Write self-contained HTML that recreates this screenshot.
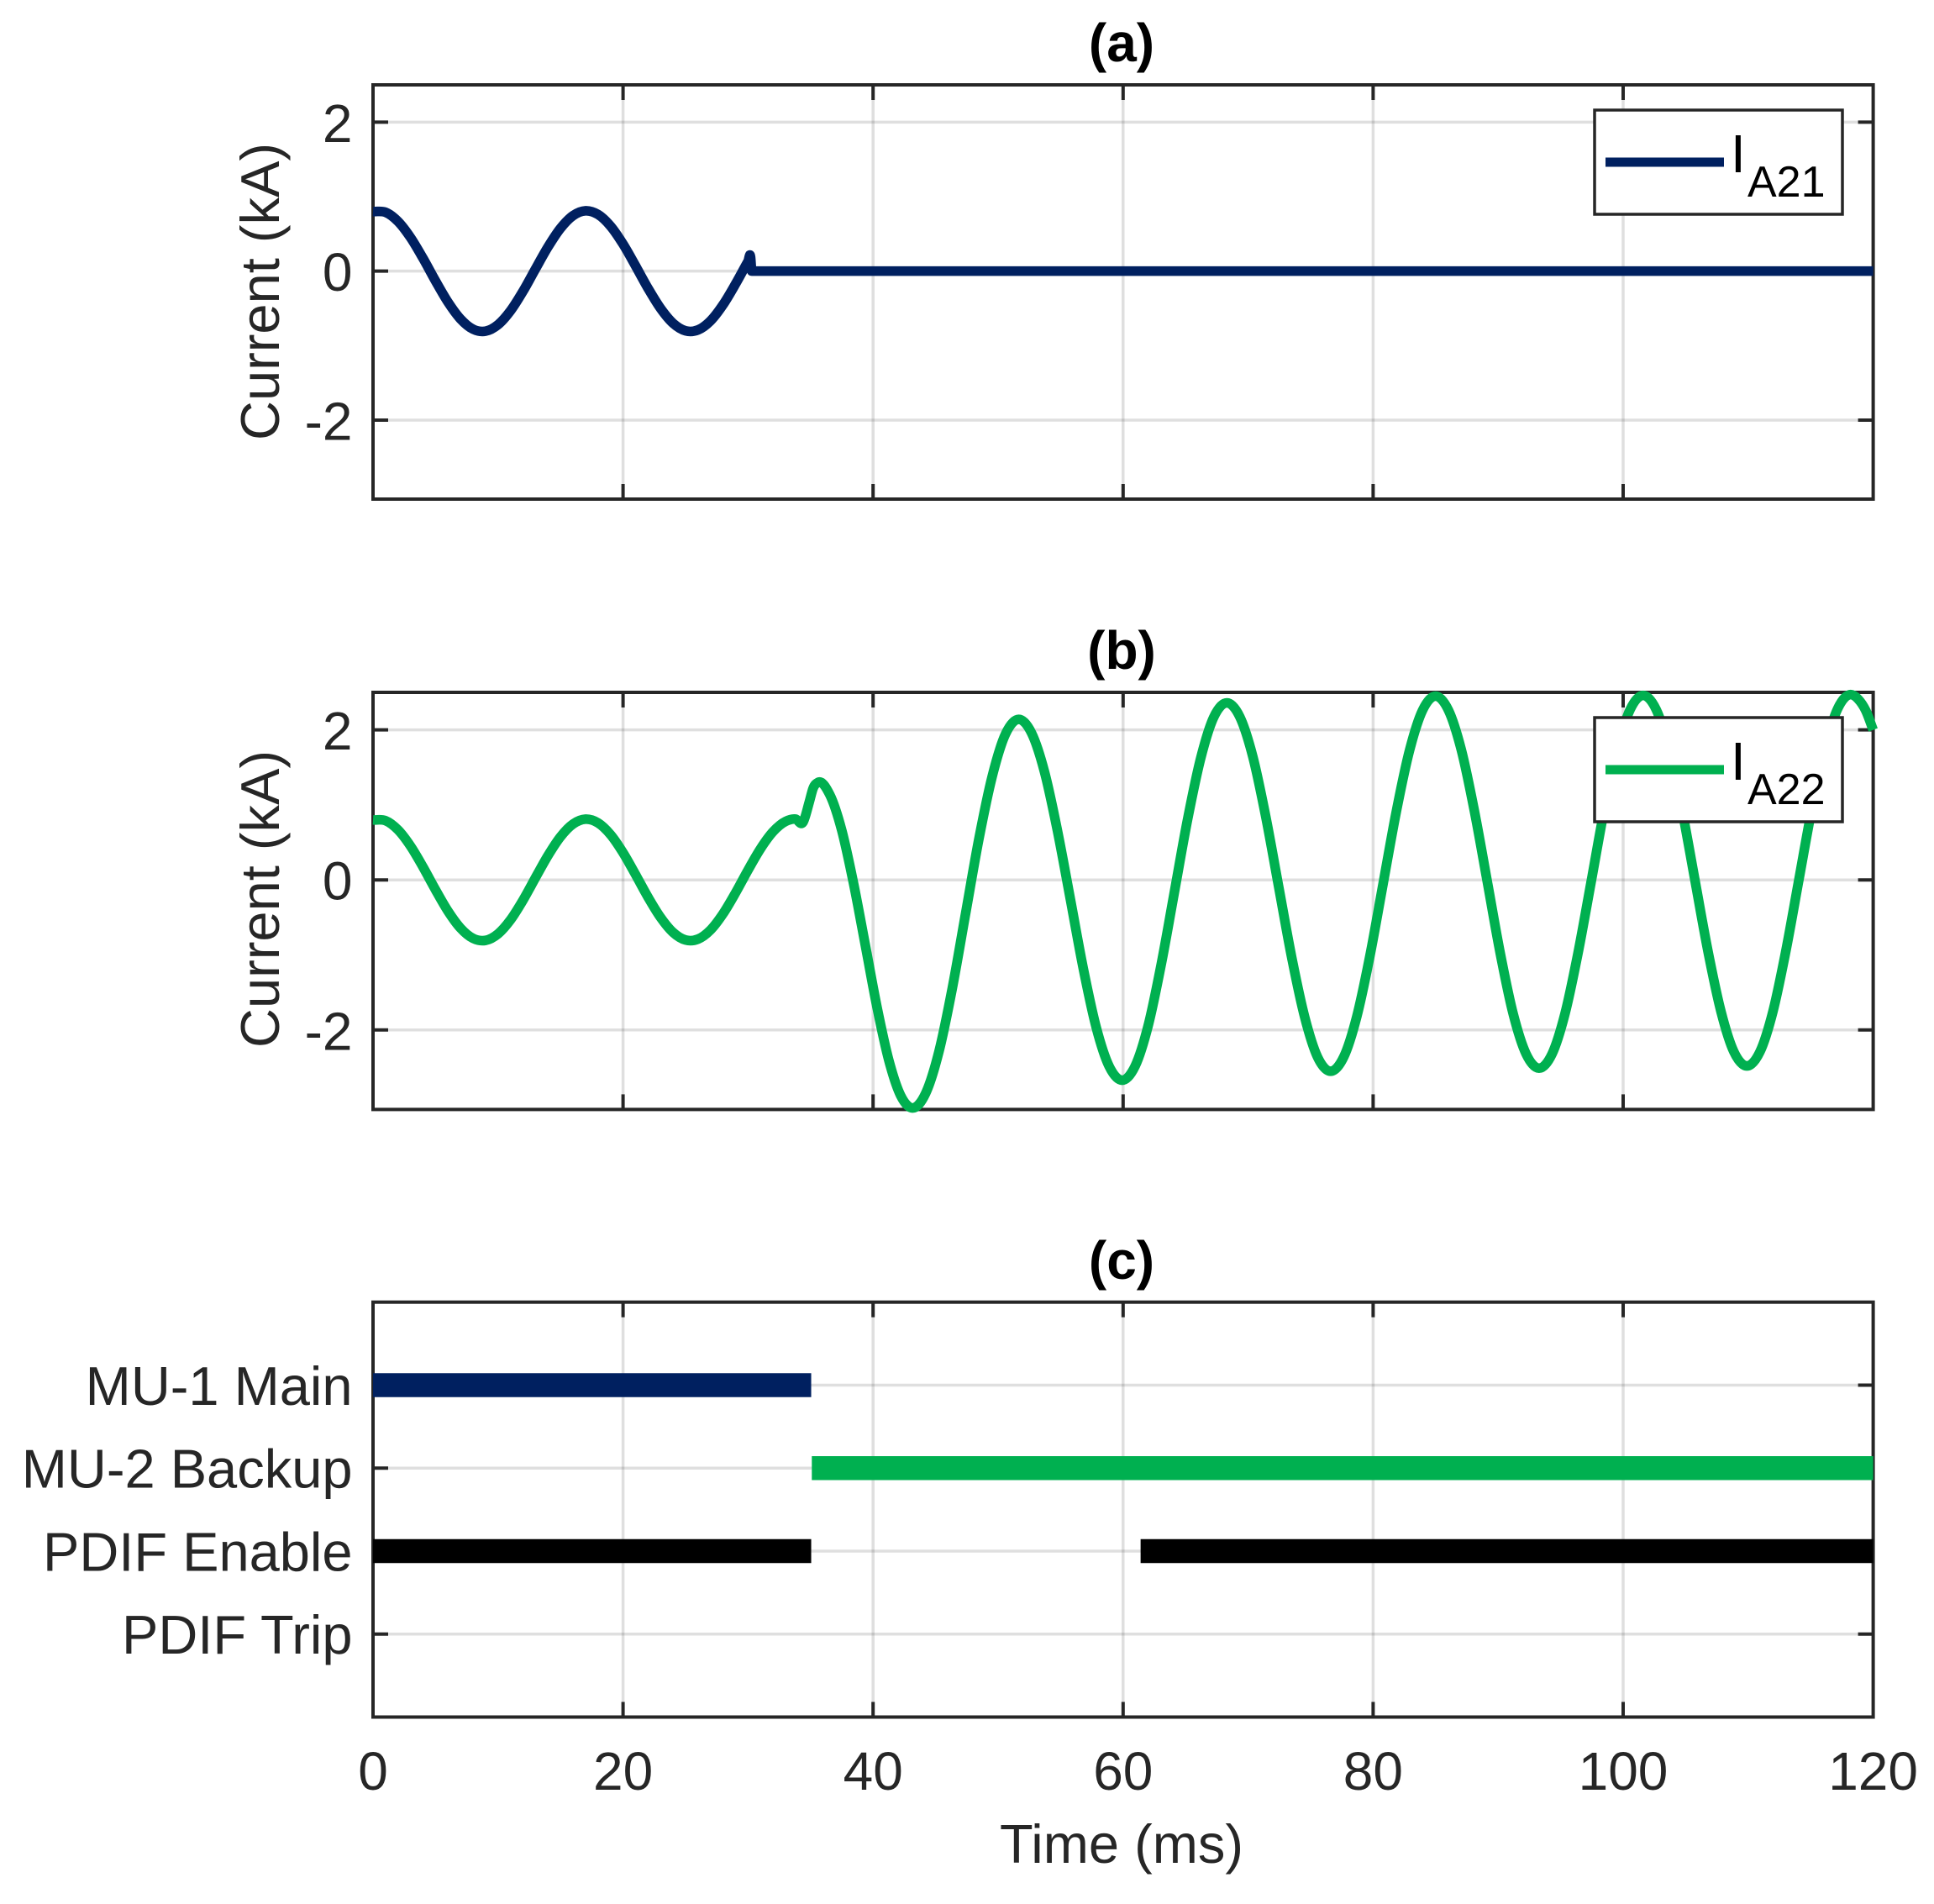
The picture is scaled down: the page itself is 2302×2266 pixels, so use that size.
<!DOCTYPE html>
<html lang="en">
<head>
<meta charset="utf-8">
<title>Current waveforms and protection signals</title>
<style>
  html, body { margin: 0; padding: 0; background: #fff; }
  svg { display: block; font-family: "Liberation Sans", Arial, sans-serif; }
</style>
</head>
<body>
<svg id="chart" xmlns="http://www.w3.org/2000/svg" width="2302" height="2266" viewBox="0 0 2302 2266">
  <rect x="0" y="0" width="2302" height="2266" fill="#fff"/>
  <g id="layer-a"></g>
  <g id="layer-b"></g>
  <g id="layer-c"></g>

  <text x="1335" y="73" font-size="64" font-weight="bold" text-anchor="middle" fill="#000">(a)</text>
  <text x="1335" y="796" font-size="64" font-weight="bold" text-anchor="middle" fill="#000">(b)</text>
  <text x="1335" y="1522" font-size="64" font-weight="bold" text-anchor="middle" fill="#000">(c)</text>

  <text transform="translate(332 347) rotate(-90)" font-size="65" text-anchor="middle" fill="#262626">Current (kA)</text>
  <text transform="translate(332 1070) rotate(-90)" font-size="65" text-anchor="middle" fill="#262626">Current (kA)</text>
  <text x="1335" y="2217" font-size="65" text-anchor="middle" fill="#262626">Time (ms)</text>

  <g>
    <rect x="1898" y="131" width="295" height="124" fill="#fff" stroke="#262626" stroke-width="3.5"/>
    <line x1="1911" x2="2052" y1="193" y2="193" stroke="#002060" stroke-width="11"/>
    <text x="2060" y="205" font-size="64" fill="#000">I</text>
    <text x="2080" y="234" font-size="52" fill="#000">A21</text>
  </g>
  <g>
    <rect x="1898" y="854" width="295" height="124" fill="#fff" stroke="#262626" stroke-width="3.5"/>
    <line x1="1911" x2="2052" y1="916" y2="916" stroke="#00B050" stroke-width="11"/>
    <text x="2060" y="928" font-size="64" fill="#000">I</text>
    <text x="2080" y="957" font-size="52" fill="#000">A22</text>
  </g>
</svg>
<script>
/* ---------- shared axis data ---------- */
const xTicks = [0, 20, 40, 60, 80, 100, 120];
const currentTicks = [-2, 0, 2];
const currentTickLabels = ["-2", "0", "2"];

/* ---------- panel (a): I_A21 ---------- */
const timeA = [0,1,2,3,4,5,6,7,8,9,10,11,12,13,14,15,16,17,18,19,20,21,22,23,24,25,26,27,28,29,30,30.2,30.3,120];
const currentA = [0.80,0.79,0.667,0.451,0.172,-0.132,-0.417,-0.643,-0.779,-0.806,-0.719,-0.532,-0.270,0.031,0.326,0.576,0.745,0.81,0.760,0.604,0.363,0.071,-0.231,-0.500,-0.700,-0.801,-0.789,-0.667,-0.451,-0.172,0.132,0.19,0,0];

/* ---------- panel (b): I_A22 ---------- */
const timeB = [0,1,2,3,4,5,6,7,8,9,10,11,12,13,14,15,16,17,18,19,20,21,22,23,24,25,26,27,28,29,30,31,32,33,33.8,34.4,34.9,35.2,35.6,
  36.54,37.49,38.43,39.38,40.32,41.26,42.21,43.15,
  44.21,45.28,46.34,47.40,48.46,49.53,50.59,51.65,
  52.68,53.72,54.75,55.79,56.82,57.85,58.89,59.92,
  60.97,62.02,63.06,64.11,65.16,66.21,67.25,68.3,
  69.34,70.38,71.41,72.45,73.49,74.53,75.56,76.6,
  77.65,78.7,79.75,80.8,81.85,82.9,83.95,85.0,
  86.03,87.07,88.1,89.14,90.17,91.2,92.24,93.27,
  94.31,95.35,96.39,97.44,98.48,99.52,100.56,101.6,
  102.64,103.68,104.71,105.75,106.79,107.83,108.86,109.9,
  110.94,111.98,113.01,114.05,115.09,116.13,117.16,118.2,
  118.8,119.4,120];
const currentB = [0.80,0.79,0.667,0.451,0.172,-0.132,-0.417,-0.643,-0.779,-0.806,-0.719,-0.532,-0.270,0.031,0.326,0.576,0.745,0.81,0.760,0.604,0.363,0.071,-0.231,-0.500,-0.700,-0.801,-0.789,-0.667,-0.451,-0.172,0.132,0.417,0.643,0.779,0.81,0.77,1.04,1.22,1.30,
  1.135,0.664,-0.04,-0.87,-1.70,-2.404,-2.875,-3.04,
  -2.843,-2.281,-1.441,-0.45,0.541,1.381,1.943,2.14,
  1.957,1.436,0.655,-0.265,-1.185,-1.966,-2.487,-2.67,
  -2.479,-1.933,-1.117,-0.155,0.807,1.623,2.169,2.36,
  2.173,1.641,0.845,-0.095,-1.035,-1.831,-2.363,-2.55,
  -2.36,-1.818,-1.007,-0.05,0.907,1.718,2.26,2.45,
  2.261,1.724,0.919,-0.03,-0.979,-1.784,-2.321,-2.51,
  -2.321,-1.782,-0.976,-0.025,0.926,1.732,2.271,2.46,
  2.272,1.737,0.935,-0.01,-0.955,-1.757,-2.292,-2.48,
  -2.292,-1.755,-0.952,-0.005,0.942,1.745,2.282,2.47,
  2.41,2.26,2.0];

/* ---------- panel (c): status signals ---------- */
const signalLevels = [4, 3, 2, 1];
const signalLabels = ["MU-1 Main", "MU-2 Backup", "PDIF Enable", "PDIF Trip"];
const segmentStarts = [0, 35.1, 0, 61.4];
const segmentEnds = [35.05, 120, 35.05, 120];
const segmentLevels = [4, 3, 2, 2];
const segmentSignals = ["mu1", "mu2", "pdif", "pdif"];

/* ---------- layout and style (not data) ---------- */
const NS = "http://www.w3.org/2000/svg";
const INK = "#262626";
const AXIS_W = 4, GRID_W = 3.5, TICK_LEN = 18;
const LEFT = 444, RIGHT = 2229.6;
const signalColor = { mu1: "#002060", mu2: "#00B050", pdif: "#000000" };
const xScale = t => LEFT + (t / 120) * (RIGHT - LEFT);
const makeY = (top, bottom, vMax, vMin) => v => top + (vMax - v) / (vMax - vMin) * (bottom - top);

function node(parent, tag, attrs) {
  const el = document.createElementNS(NS, tag);
  for (const k in attrs) el.setAttribute(k, attrs[k]);
  parent.appendChild(el);
  return el;
}

/* smooth cubic path through the data points: three-point tangents, with a
   monotone fallback where the sample spacing jumps (flat run after the trip) */
function curvePath(xs, ys) {
  const n = xs.length, d = [], m = [];
  for (let i = 0; i < n - 1; i++) d.push((ys[i + 1] - ys[i]) / (xs[i + 1] - xs[i]));
  m[0] = d[0];
  m[n - 1] = d[n - 2];
  for (let i = 1; i < n - 1; i++) {
    const h0 = xs[i] - xs[i - 1], h1 = xs[i + 1] - xs[i];
    if (Math.max(h0, h1) / Math.min(h0, h1) <= 3) {
      m[i] = (h1 * d[i - 1] + h0 * d[i]) / (h0 + h1);
    } else if (d[i - 1] * d[i] <= 0) {
      m[i] = 0;
    } else {
      m[i] = 3 * (h0 + h1) / ((2 * h1 + h0) / d[i - 1] + (h1 + 2 * h0) / d[i]);
    }
  }
  let p = "M" + xs[0].toFixed(2) + " " + ys[0].toFixed(2);
  for (let i = 0; i < n - 1; i++) {
    const h = (xs[i + 1] - xs[i]) / 3;
    p += "C" + (xs[i] + h).toFixed(2) + " " + (ys[i] + m[i] * h).toFixed(2) + " " +
         (xs[i + 1] - h).toFixed(2) + " " + (ys[i + 1] - m[i + 1] * h).toFixed(2) + " " +
         xs[i + 1].toFixed(2) + " " + ys[i + 1].toFixed(2);
  }
  return p;
}

function drawGrid(layer, top, bottom, yVals, yScale) {
  xTicks.slice(1, -1).forEach(t => {
    const g = node(layer, "line", { x1: xScale(t), x2: xScale(t), y1: top, y2: bottom, stroke: INK, "stroke-opacity": 0.15, "stroke-width": GRID_W });
    
    
  });
  yVals.forEach(v => {
    const g = node(layer, "line", { x1: LEFT, x2: RIGHT, y1: yScale(v), y2: yScale(v), stroke: INK, "stroke-opacity": 0.15, "stroke-width": GRID_W });
    
    
  });
}

function drawAxes(layer, top, bottom, yVals, yScale) {
  const box = node(layer, "rect", { x: LEFT, y: top, width: RIGHT - LEFT, height: bottom - top, fill: "none", stroke: INK, "stroke-width": AXIS_W });
  
  
  xTicks.slice(1, -1).forEach(t => {
    const a = node(layer, "line", { x1: xScale(t), x2: xScale(t), y1: top, y2: top + TICK_LEN, stroke: INK, "stroke-width": AXIS_W });
    
    
    const b = node(layer, "line", { x1: xScale(t), x2: xScale(t), y1: bottom, y2: bottom - TICK_LEN, stroke: INK, "stroke-width": AXIS_W });
    
    
  });
  yVals.forEach(v => {
    const a = node(layer, "line", { x1: LEFT, x2: LEFT + TICK_LEN, y1: yScale(v), y2: yScale(v), stroke: INK, "stroke-width": AXIS_W });
    
    
    const b = node(layer, "line", { x1: RIGHT, x2: RIGHT - TICK_LEN, y1: yScale(v), y2: yScale(v), stroke: INK, "stroke-width": AXIS_W });
    
    
  });
}

function drawYLabels(layer, vals, labels, yScale, fontSize) {
  vals.forEach((v, i) => {
    const tx = node(layer, "text", { x: 419.5, y: yScale(v) + 23.5, "font-size": fontSize, "text-anchor": "end", fill: INK });
    
    
    tx.textContent = labels[i];
  });
}

function drawCurrentPanel(layer, top, bottom, times, values, color, width, seriesName) {
  const yScale = makeY(top, bottom, 2.5, -3.06);
  drawGrid(layer, top, bottom, currentTicks, yScale);
  drawAxes(layer, top, bottom, currentTicks, yScale);
  drawYLabels(layer, currentTicks, currentTickLabels, yScale, 64);
  const line = node(layer, "path", {
    d: curvePath(times.map(xScale), values.map(yScale)),
    fill: "none", stroke: color, "stroke-width": width, "stroke-linejoin": "round"
  });
  
  
}

drawCurrentPanel(document.getElementById("layer-a"), 101, 594, timeA, currentA, "#002060", 11.5, "series-ia21");
drawCurrentPanel(document.getElementById("layer-b"), 824, 1320.4, timeB, currentB, "#00B050", 11.5, "series-ia22");

/* panel (c) */
(function () {
  const layer = document.getElementById("layer-c");
  const top = 1549.7, bottom = 2043.5;
  const yScale = makeY(top, bottom, 5, 0);
  drawGrid(layer, top, bottom, signalLevels, yScale);
  drawAxes(layer, top, bottom, signalLevels, yScale);
  drawYLabels(layer, signalLevels, signalLabels, yScale, 65);
  segmentStarts.forEach((s, i) => {
    const bar = node(layer, "line", {
      x1: xScale(s), x2: xScale(segmentEnds[i]),
      y1: yScale(segmentLevels[i]), y2: yScale(segmentLevels[i]),
      stroke: signalColor[segmentSignals[i]], "stroke-width": 28.5
    });
    
    
  });
  xTicks.forEach(t => {
    const tx = node(layer, "text", { x: xScale(t), y: 2130, "font-size": 64, "text-anchor": "middle", fill: INK });
    
    
    tx.textContent = String(t);
  });
})();
</script>
</body>
</html>
